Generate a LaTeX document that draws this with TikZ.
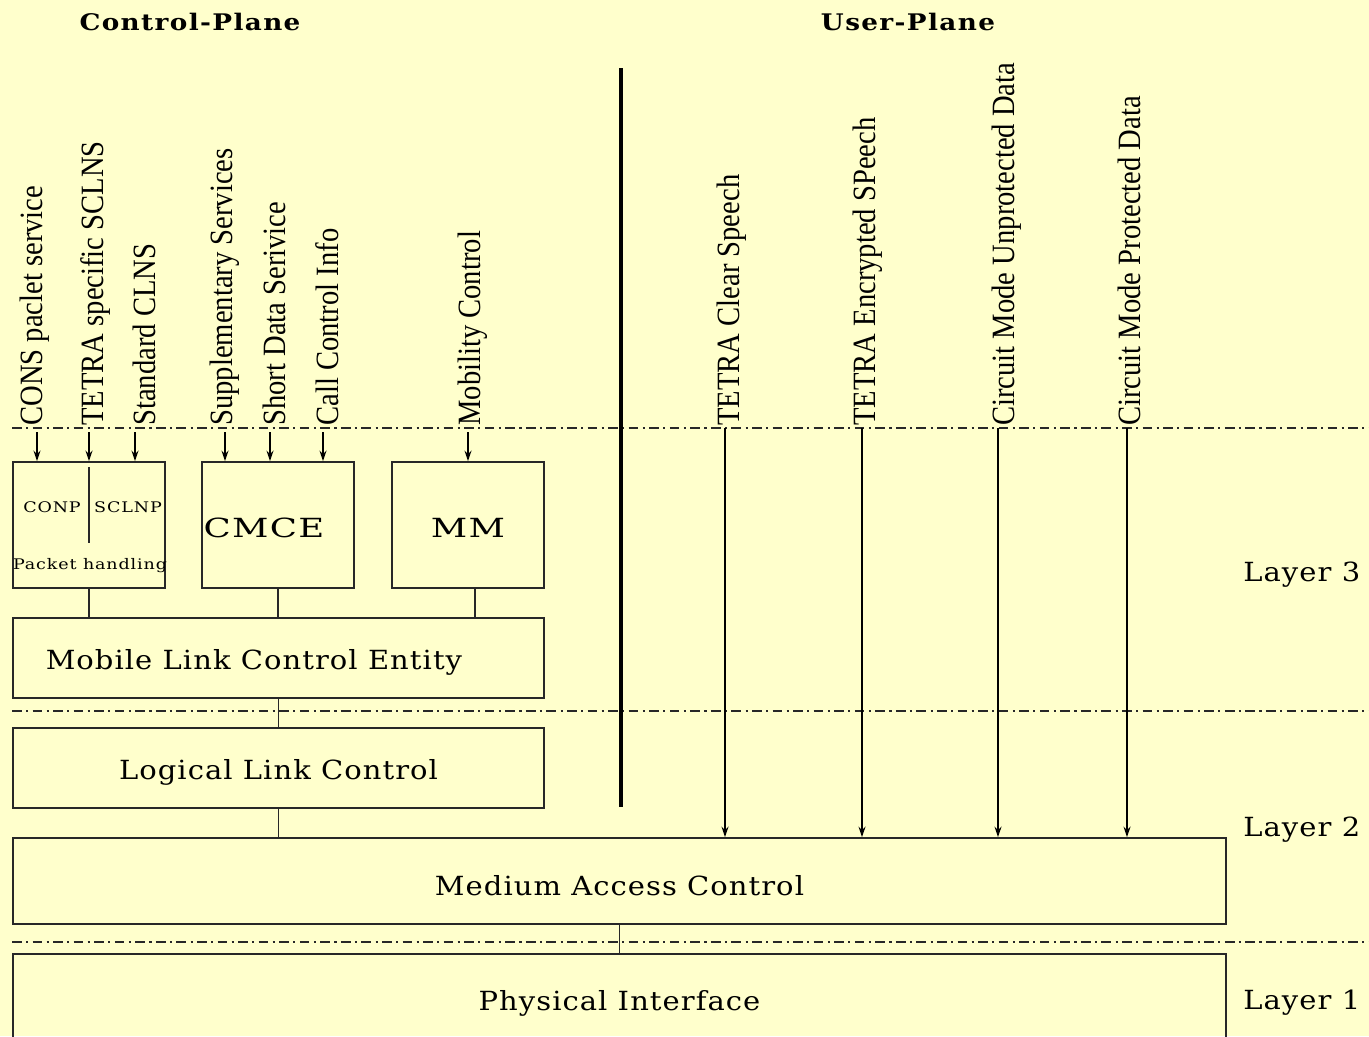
\documentclass[tikz,border=0pt]{standalone}
\usepackage{fontspec}
\usetikzlibrary{arrows.meta}
\newfontfamily\boxfont[FakeStretch=1.1,LetterSpace=4]{DejaVu Serif}
\newfontfamily\capsfont[FakeStretch=1.35,LetterSpace=5]{DejaVu Serif}
\newfontfamily\smallfont[FakeStretch=1.2,LetterSpace=6]{DejaVu Serif}
\newfontfamily\titlefont[FakeStretch=1.15,LetterSpace=6]{DejaVu Serif}
\newfontfamily\vfont[FakeStretch=0.88]{Liberation Serif}
\definecolor{bg}{RGB}{255,255,204}
\definecolor{ln}{RGB}{40,40,40}
\newcommand\lowtxt[2]{\raisebox{-#1}[0pt][0pt]{#2}}
\begin{document}
\begin{tikzpicture}[x=0.02cm, y=-0.02cm,
  box/.style={draw=ln, line width=1pt, inner sep=0pt, font=\boxfont\fontsize{15pt}{18pt}\selectfont},
  smallbox/.style={box, minimum width=3.04cm, minimum height=2.52cm},
  widebox/.style={box, minimum width=10.62cm, minimum height=1.6cm},
  fullbox/.style={box, minimum width=24.26cm, minimum height=1.72cm},
  capstxt/.style={font=\capsfont\fontsize{15pt}{18pt}\selectfont},
  smalltxt/.style={inner sep=0pt, font=\smallfont\fontsize{8.3pt}{10pt}\selectfont},
  layertxt/.style={anchor=west, inner sep=0pt, font=\boxfont\fontsize{15pt}{18pt}\selectfont},
  titletxt/.style={inner sep=0pt, font=\titlefont\bfseries\fontsize{13pt}{16pt}\selectfont},
  vlab/.style={rotate=90, anchor=north west, inner sep=0pt, font=\vfont\fontsize{18.5pt}{20pt}\selectfont},
  dashdot/.style={draw=ln, line width=0.8pt, dash pattern=on 5.5pt off 2.5pt on 1.2pt off 2.5pt},
  conn/.style={draw=ln, line width=0.9pt},
  inarr/.style={draw=black, line width=0.9pt, -{Stealth[length=6pt,width=4pt]}}
]
\fill[bg] (0,0) rectangle (1369,1036);
\useasboundingbox (0,0) rectangle (1369,1036);
\clip (0,0) rectangle (1369,1036);

% titles
\node[titletxt] (cptitle) at (190,22) {Control-Plane};
\node[titletxt] (uptitle) at (908,22) {User-Plane};

% layer separators
\coordinate (d1a) at (12,428);  \coordinate (d1b) at (1369,428);
\coordinate (d2a) at (12,711);  \coordinate (d2b) at (1369,711);
\coordinate (d3a) at (12,942);  \coordinate (d3b) at (1369,942);
\draw[dashdot] (d1a) -- (d1b);
\draw[dashdot] (d2a) -- (d2b);
\draw[dashdot] (d3a) -- (d3b);

% plane separator
\coordinate (sepT) at (621,68); \coordinate (sepB) at (621,807);
\draw[line width=2.8pt] (sepT) -- (sepB);

% boxes
\node[smallbox] (pkt) at (89,525) {};
\node[smallbox] (cmce) at (278,525) {};
\node[capstxt] (cmcetxt) at (264,528) {CMCE};
\node[smallbox] (mm) at (468,525) {};
\node[capstxt] (mmtxt) at (468,528) {MM};
\node[widebox] (mlce) at (278.5,658) {\hspace*{-28pt}\lowtxt{6.6pt}{Mobile Link Control Entity}};
\node[widebox] (llc) at (278.5,768) {\lowtxt{6.6pt}{Logical Link Control}};
\node[fullbox] (mac) at (619.5,881) {\lowtxt{8.3pt}{Medium Access Control}};
\node[fullbox] (phy) at (619.5,997) {\lowtxt{7.8pt}{Physical Interface}};

% packet handling box contents
\coordinate (dv1) at (89,467); \coordinate (dv2) at (89,543);
\draw[conn] (dv1) -- (dv2);
\node[smalltxt] (conp) at (52,507) {CONP};
\node[smalltxt] (sclnp) at (128,507) {SCLNP};
\node[smalltxt] (phand) at (90,566) {Packet handling};

% layer labels
\node[layertxt] (l3) at (1243,575) {Layer 3};
\node[layertxt] (l2) at (1243,830) {Layer 2};
\node[layertxt] (l1) at (1243,1003) {Layer 1};

% connectors between boxes
\draw[conn] (pkt.south) -- (pkt.south |- mlce.north);
\draw[conn] (cmce.south) -- (cmce.south |- mlce.north);
\coordinate (mmc) at (475,588);
\draw[conn] (mmc) -- (mmc |- mlce.north);
\draw[conn] (mlce.south) -- (llc.north);
\draw[conn] (llc.south) -- (llc.south |- mac.north);
\draw[conn] (mac.south) -- (phy.north);

% control plane service labels
\node[vlab] (s1) at (20,426) {CONS paclet service};
\node[vlab] (s2) at (80,426) {TETRA specific SCLNS};
\node[vlab] (s3) at (133,426) {Standard CLNS};
\node[vlab] (s4) at (210,426) {Supplementary Services};
\node[vlab] (s5) at (263,426) {Short Data Serivice};
\node[vlab] (s6) at (315,426) {Call Control Info};
\node[vlab] (s7) at (458,426) {Mobility Control};

% user plane labels
\node[vlab] (u1) at (717,426) {TETRA Clear Speech};
\node[vlab] (u2) at (853,426) {TETRA Encrypted SPeech};
\node[vlab] (u3) at (992,426) {Circuit Mode Unprotected Data};
\node[vlab] (u4) at (1118,426) {Circuit Mode Protected Data};

% control plane arrows
\coordinate (a1) at (37,432);  \draw[inarr] (a1) -- (a1 |- pkt.north);
\coordinate (a2) at (89,432);  \draw[inarr] (a2) -- (a2 |- pkt.north);
\coordinate (a3) at (135,432); \draw[inarr] (a3) -- (a3 |- pkt.north);
\coordinate (a4) at (225,432); \draw[inarr] (a4) -- (a4 |- cmce.north);
\coordinate (a5) at (270,432); \draw[inarr] (a5) -- (a5 |- cmce.north);
\coordinate (a6) at (323,432); \draw[inarr] (a6) -- (a6 |- cmce.north);
\coordinate (a7) at (468,432); \draw[inarr] (a7) -- (a7 |- mm.north);

% user plane arrows
\coordinate (b1) at (725,428);  \draw[inarr] (b1) -- (b1 |- mac.north);
\coordinate (b2) at (862,428);  \draw[inarr] (b2) -- (b2 |- mac.north);
\coordinate (b3) at (998,428);  \draw[inarr] (b3) -- (b3 |- mac.north);
\coordinate (b4) at (1127,428); \draw[inarr] (b4) -- (b4 |- mac.north);
\end{tikzpicture}
\end{document}
